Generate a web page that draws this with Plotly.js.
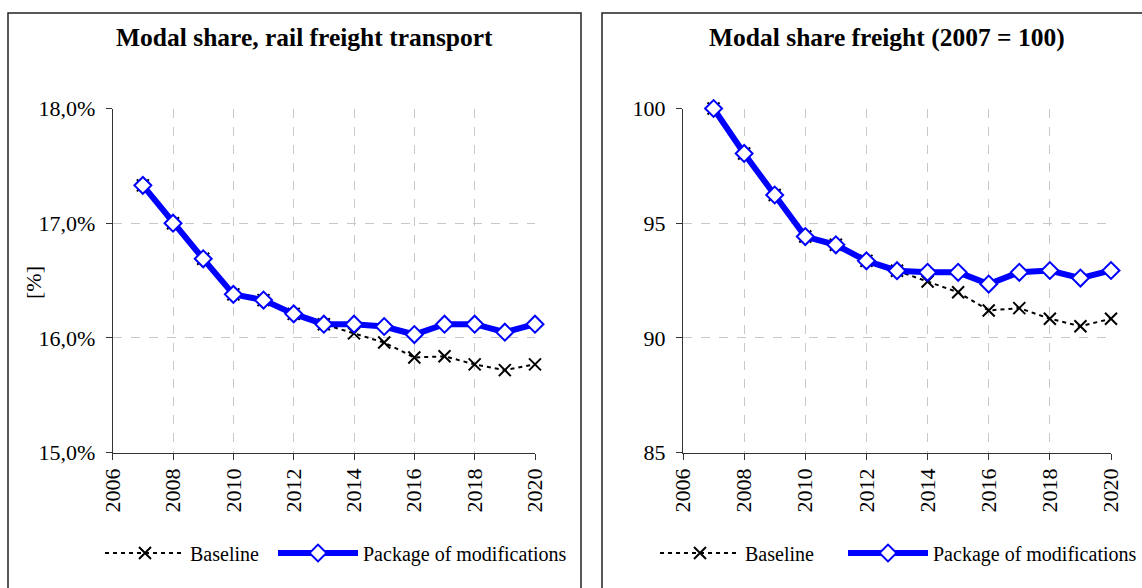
<!DOCTYPE html>
<html>
<head>
<meta charset="utf-8">
<script src="https://cdn.plot.ly/plotly-3.0.1.min.js"></script>
<style>
html,body{margin:0;padding:0;background:#fff;}
#chart{width:1142px;height:588px;}
</style>
</head>
<body>
<div id="chart"></div>
<script>
// ---- data ----
const years = [2007, 2008, 2009, 2010, 2011, 2012, 2013, 2014, 2015, 2016, 2017, 2018, 2019, 2020];
const railBaseline = [17.33, 17.00, 16.69, 16.38, 16.33, 16.21, 16.12, 16.04, 15.96, 15.83, 15.84, 15.77, 15.72, 15.77];
const railPackage  = [17.33, 17.00, 16.69, 16.38, 16.33, 16.21, 16.12, 16.12, 16.10, 16.03, 16.12, 16.12, 16.05, 16.12];
const indexBaseline = [100, 98.04, 96.23, 94.42, 94.06, 93.36, 92.93, 92.46, 91.99, 91.20, 91.30, 90.84, 90.51, 90.84];
const indexPackage  = [100, 98.04, 96.23, 94.42, 94.06, 93.36, 92.93, 92.86, 92.86, 92.35, 92.86, 92.94, 92.61, 92.94];
const seriesNames = ['Baseline', 'Package of modifications'];
const titles = ['Modal share, rail freight transport', 'Modal share freight (2007 = 100)'];
const xTicks = [2006, 2008, 2010, 2012, 2014, 2016, 2018, 2020];
const railTickVals = [15, 16, 17, 18];
const railTickText = ['15,0%', '16,0%', '17,0%', '18,0%'];
const indexTickVals = [85, 90, 95, 100];
const yTitleLeft = '[%]';

// ---- geometry helpers (pixels -> paper) ----
const W = 1142, H = 588;
const px = v => v / W;
const py = v => (H - v) / H;

const FONT = '"Times New Roman", "Liberation Serif", serif';

function baseTrace(x, y, xa, ya, leg, name) {
  return {x: x, y: y, xaxis: xa, yaxis: ya, name: name, legend: leg, mode: 'lines+markers',
    type: 'scatter', cliponaxis: false,
    line: {color: '#000', width: 2, dash: '4px,4px'},
    marker: {symbol: 'x-thin-open', size: 12, color: '#000', line: {color: '#000', width: 2}}};
}
function pkgTrace(x, y, xa, ya, leg, name) {
  return {x: x, y: y, xaxis: xa, yaxis: ya, name: name, legend: leg, mode: 'lines+markers',
    type: 'scatter', cliponaxis: false,
    line: {color: '#0000FF', width: 6},
    marker: {symbol: 'diamond', size: 13, color: '#FFFFFF', line: {color: '#0000FF', width: 2}}};
}

const data = [
  baseTrace(years, railBaseline, 'x', 'y', 'legend', seriesNames[0]),
  pkgTrace(years, railPackage, 'x', 'y', 'legend2', seriesNames[1]),
  baseTrace(years, indexBaseline, 'x2', 'y2', 'legend3', seriesNames[0]),
  pkgTrace(years, indexPackage, 'x2', 'y2', 'legend4', seriesNames[1])
];

function xAxis(domain, anchor) {
  return {domain: domain, anchor: anchor, range: [2006, 2020], tickvals: xTicks, tickangle: -90,
    showgrid: true, gridcolor: '#c8c8c8', griddash: 'dash', gridwidth: 1,
    showline: true, linecolor: '#333', linewidth: 1, ticks: 'outside', ticklen: 6, tickcolor: '#333',
    tickfont: {family: FONT, size: 22, color: '#000'}, zeroline: false, fixedrange: true,
    automargin: false};
}
function yAxis(domain, anchor, range, vals, text) {
  const a = {domain: domain, anchor: anchor, range: range, tickvals: vals,
    showgrid: true, gridcolor: '#c8c8c8', griddash: 'dash', gridwidth: 1,
    showline: true, linecolor: '#333', linewidth: 1, ticks: 'outside', ticklen: 6, tickcolor: '#333',
    ticklabelstandoff: 6, automargin: false,
    tickfont: {family: FONT, size: 22, color: '#000'}, zeroline: false, fixedrange: true};
  if (text) a.ticktext = text;
  return a;
}

function legendAt(xPix) {
  return {x: px(xPix), xanchor: 'left', y: py(553), yanchor: 'middle', orientation: 'h',
    bgcolor: 'rgba(0,0,0,0)', borderwidth: 0, itemwidth: 80,
    font: {family: FONT, size: 20, color: '#000'}, itemclick: false, itemdoubleclick: false};
}

const yDom = [py(452.7), py(108.5)];
const layout = {
  width: W, height: H, margin: {l: 0, r: 0, t: 0, b: 0, autoexpand: false},
  paper_bgcolor: '#fff', plot_bgcolor: '#fff', showlegend: true,
  font: {family: FONT},
  xaxis: xAxis([px(112.7), px(535)], 'y'),
  yaxis: yAxis(yDom, 'x', [15, 18], railTickVals, railTickText),
  xaxis2: xAxis([px(683), px(1111)], 'y2'),
  yaxis2: yAxis(yDom, 'x2', [85, 100], indexTickVals, null),
  legend: legendAt(100),
  legend2: legendAt(273),
  legend3: legendAt(655),
  legend4: legendAt(843),
  annotations: [
    {text: '<b>' + titles[0] + '</b>', xref: 'paper', yref: 'paper', x: px(304), y: py(38),
      xanchor: 'center', yanchor: 'middle', showarrow: false, font: {family: FONT, size: 25.5, color: '#000'}},
    {text: '<b>' + titles[1] + '</b>', xref: 'paper', yref: 'paper', x: px(887), y: py(38),
      xanchor: 'center', yanchor: 'middle', showarrow: false, font: {family: FONT, size: 25.5, color: '#000'}},
    {text: yTitleLeft, xref: 'paper', yref: 'paper', x: px(33), y: py(283), textangle: -90,
      xanchor: 'center', yanchor: 'middle', showarrow: false, font: {family: FONT, size: 22, color: '#000'}}
  ],
  shapes: [
    {type: 'rect', xref: 'paper', yref: 'paper', x0: px(8), x1: px(581), y0: -0.05, y1: py(13),
      line: {color: '#222', width: 1.5}, fillcolor: 'rgba(0,0,0,0)', layer: 'below'},
    {type: 'rect', xref: 'paper', yref: 'paper', x0: px(602), x1: px(1160), y0: -0.05, y1: py(13),
      line: {color: '#222', width: 1.5}, fillcolor: 'rgba(0,0,0,0)', layer: 'below'}
  ]
};

Plotly.newPlot('chart', data, layout, {displayModeBar: false, staticPlot: true});
</script>
</body>
</html>
